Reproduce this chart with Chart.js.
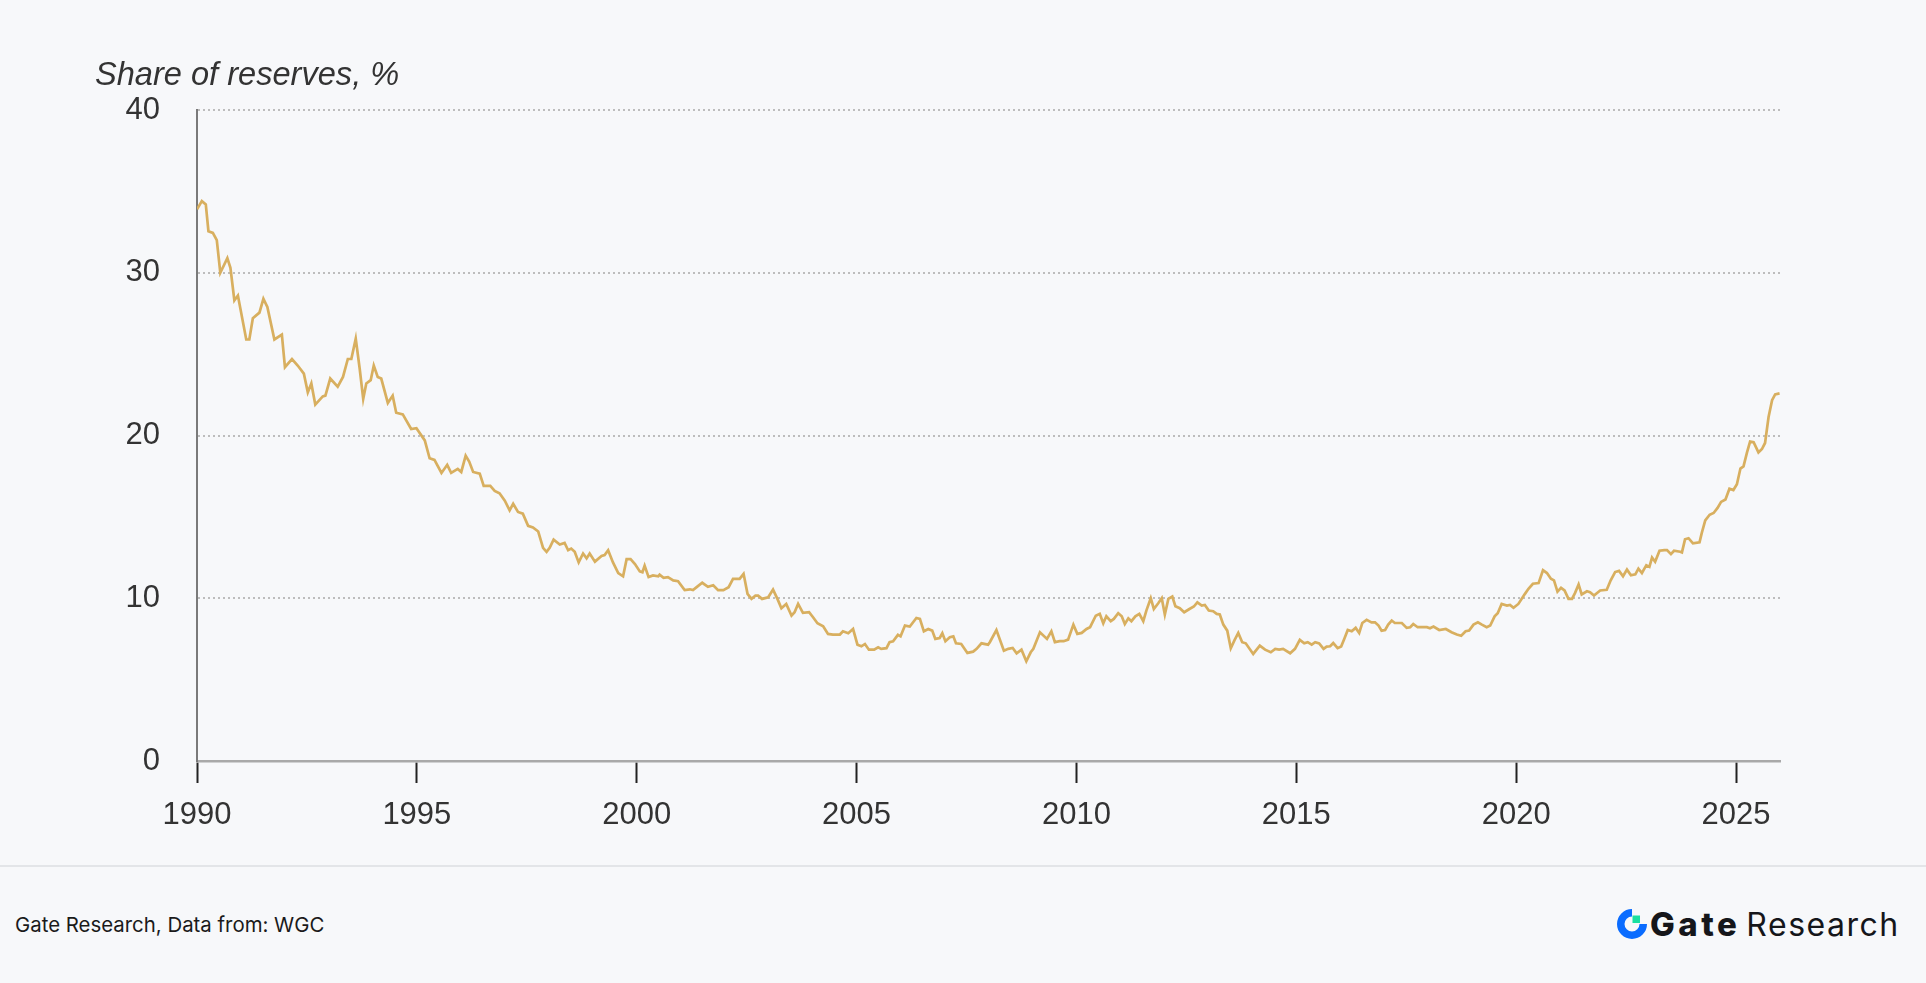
<!DOCTYPE html>
<html>
<head>
<meta charset="utf-8">
<script src="https://cdn.jsdelivr.net/npm/chart.js@4.4.1/dist/chart.umd.min.js"></script>
<style>
  html, body { margin: 0; padding: 0; background: #F7F8FA; }
  body { width: 1926px; height: 983px; position: relative; overflow: hidden; }
  #wrap { position: absolute; left: 0; top: 0; width: 1926px; height: 860px; }
  #ytitle { position: absolute; left: 95px; top: 58px; font-family: "Liberation Sans", Arial, sans-serif;
            font-style: italic; font-size: 32.6px; line-height: 32px; color: #333; white-space: nowrap; }
  #sep { position: absolute; left: 0; top: 865px; width: 1926px; height: 2px; background: #E3E5E8; }
  #source { position: absolute; left: 15px; top: 912px; font-family: Inter, "Noto Sans", sans-serif;
            font-size: 20.4px; line-height: 26px; color: #1A1A1A; white-space: nowrap; }
  #logo { position: absolute; left: 1617px; top: 904px; height: 40px; display: flex; align-items: center; white-space: nowrap; }
  #logo svg { display: block; margin-right: 3px; }
  #logo .g { font-family: Inter, sans-serif; font-weight: 800; font-size: 33px; color: #15161A; letter-spacing: 3.5px; }
  #logo .r { font-family: Inter, sans-serif; font-weight: 400; font-size: 32px; color: #15161A; margin-left: 6px; letter-spacing: 1.5px; }
</style>
</head>
<body>
<div id="wrap"><canvas id="c" width="1926" height="860"></canvas></div>
<div id="ytitle">Share of reserves, %</div>
<div id="sep"></div>
<div id="source">Gate Research, Data from: WGC</div>
<div id="logo">
  <svg width="30" height="30" viewBox="0 0 30 30">
    <path d="M15 0 A15 15 0 1 0 30 15 L22.5 15 A7.5 7.5 0 1 1 15 7.5 Z" fill="#0A6CFF"/>
    <rect x="15.5" y="6.5" width="7.5" height="7.5" fill="#1AE0A0"/>
  </svg>
  <span class="g">Gate</span><span class="r">Research</span>
</div>
<script>
// Decimal year of each observation
const years = [
1990.00,1990.11,1990.20,1990.26,1990.36,1990.45,1990.53,1990.69,1990.76,1990.85,1990.93,
1991.12,1991.19,1991.27,1991.42,1991.51,1991.60,1991.76,1991.93,
1992.00,1992.16,1992.29,1992.43,1992.52,1992.60,1992.69,1992.86,1992.92,
1993.03,1993.20,1993.32,1993.43,1993.51,1993.61,1993.70,1993.78,1993.85,1993.95,
1994.02,1994.11,1994.19,1994.34,1994.45,1994.53,1994.68,1994.87,1994.99,
1995.18,1995.29,1995.40,1995.56,1995.69,1995.78,1995.93,
1996.01,1996.11,1996.19,1996.28,1996.43,1996.52,1996.67,1996.77,1996.88,
1997.00,1997.11,1997.19,1997.30,1997.41,1997.53,1997.64,1997.76,1997.87,1997.95,
1998.02,1998.11,1998.25,1998.36,1998.44,1998.51,1998.59,1998.68,1998.78,1998.86,1998.93,
1999.05,1999.20,1999.27,1999.35,1999.46,1999.58,1999.69,1999.77,1999.86,1999.96,
2000.07,2000.13,2000.18,2000.27,2000.37,2000.49,2000.52,2000.61,2000.71,2000.83,2000.94,
2001.09,2001.21,2001.28,2001.37,2001.49,2001.62,2001.74,2001.85,2001.97,
2002.09,2002.19,2002.34,2002.43,2002.52,2002.61,2002.70,2002.76,2002.85,2002.99,
2003.10,2003.20,2003.29,2003.40,2003.52,2003.59,2003.67,2003.78,2003.92,
2004.01,2004.11,2004.24,2004.35,2004.46,2004.62,2004.69,2004.81,2004.92,
2005.02,2005.11,2005.19,2005.28,2005.40,2005.49,2005.56,2005.68,2005.75,2005.83,2005.94,
2006.00,2006.10,2006.21,2006.36,2006.44,2006.53,2006.63,2006.72,2006.79,2006.89,2006.95,
2007.02,2007.12,2007.20,2007.26,2007.38,2007.52,2007.65,2007.73,2007.84,2007.99,
2008.03,2008.18,2008.35,2008.45,2008.55,2008.64,2008.75,2008.86,2008.96,
2009.02,2009.17,2009.33,2009.43,2009.51,2009.62,2009.71,2009.81,2009.93,
2010.02,2010.12,2010.23,2010.31,2010.44,2010.53,2010.61,2010.68,2010.78,2010.85,2010.95,
2011.03,2011.10,2011.18,2011.25,2011.34,2011.43,2011.52,2011.59,2011.69,2011.76,2011.86,2011.94,
2012.01,2012.09,2012.18,2012.25,2012.35,2012.45,2012.57,2012.67,2012.75,2012.85,2012.92,
2013.01,2013.11,2013.19,2013.26,2013.34,2013.43,2013.51,2013.59,2013.68,2013.77,2013.85,
2014.02,2014.17,2014.29,2014.42,2014.52,2014.61,2014.70,2014.86,2014.97,
2015.08,2015.18,2015.26,2015.35,2015.43,2015.52,2015.62,2015.69,2015.77,2015.84,2015.94,
2016.02,2016.09,2016.17,2016.26,2016.35,2016.43,2016.50,2016.60,2016.71,2016.79,2016.87,2016.94,
2017.02,2017.09,2017.17,2017.24,2017.40,2017.51,2017.59,2017.66,2017.76,2017.97,
2018.04,2018.12,2018.25,2018.40,2018.53,2018.65,2018.75,2018.85,2018.93,
2019.03,2019.13,2019.22,2019.33,2019.41,2019.51,2019.58,2019.67,2019.79,2019.86,2019.94,
2020.05,2020.20,2020.28,2020.38,2020.51,2020.61,2020.70,2020.79,2020.86,2020.94,
2021.02,2021.10,2021.19,2021.27,2021.34,2021.42,2021.49,2021.61,2021.68,2021.77,2021.91,
2022.06,2022.15,2022.25,2022.34,2022.43,2022.52,2022.61,2022.71,2022.78,2022.86,2022.96,
2023.03,2023.09,2023.16,2023.26,2023.37,2023.43,2023.52,2023.59,2023.73,2023.77,2023.84,2023.92,
2024.02,2024.17,2024.22,2024.30,2024.40,2024.49,2024.58,2024.66,2024.76,2024.85,2024.94,
2025.02,2025.10,2025.17,2025.25,2025.32,2025.40,2025.51,2025.59,2025.66,2025.74,2025.82,2025.89,2025.99
];
// Gold's share of reserves, %
const shares = [
33.9,34.4,34.2,32.55,32.45,32.0,30.0,30.9,30.3,28.3,28.6,
25.9,25.9,27.2,27.55,28.4,27.9,25.9,26.2,
24.2,24.7,24.3,23.8,22.65,23.2,21.9,22.4,22.45,
23.5,23.0,23.6,24.7,24.7,25.95,24.1,22.25,23.2,23.4,
24.3,23.6,23.5,22.0,22.45,21.4,21.3,20.4,20.45,
19.7,18.6,18.5,17.7,18.2,17.7,17.95,
17.76,18.76,18.4,17.76,17.66,16.9,16.9,16.6,16.45,
16.0,15.4,15.8,15.3,15.2,14.45,14.35,14.1,13.1,12.85,
13.1,13.6,13.3,13.4,12.95,13.05,12.85,12.2,12.75,12.45,12.75,
12.25,12.6,12.65,12.95,12.2,11.55,11.35,12.4,12.4,12.1,
11.65,11.6,12.0,11.3,11.4,11.35,11.45,11.25,11.3,11.1,11.05,
10.5,10.55,10.5,10.7,10.95,10.7,10.8,10.5,10.5,
10.68,11.19,11.19,11.5,10.27,9.96,10.16,10.16,9.96,10.06,
10.53,9.96,9.39,9.65,8.93,9.14,9.65,9.1,9.14,
8.83,8.46,8.28,7.81,7.77,7.77,7.97,7.85,8.11,
7.15,7.05,7.19,6.84,6.84,6.99,6.89,6.93,7.3,7.36,7.75,
7.66,8.32,8.26,8.79,8.73,7.97,8.11,8.01,7.5,7.56,7.85,
7.36,7.6,7.66,7.23,7.19,6.64,6.72,6.89,7.23,7.15,
7.3,8.05,6.78,6.89,6.95,6.62,6.84,6.13,6.68,
6.89,7.91,7.5,7.97,7.3,7.36,7.36,7.46,8.38,
7.81,7.87,8.11,8.22,8.93,9.04,8.46,8.89,8.59,8.73,9.08,
8.89,8.42,8.77,8.59,8.89,9.04,8.59,9.24,10.0,9.34,9.69,10.0,
9.0,9.96,10.1,9.51,9.39,9.14,9.34,9.49,9.75,9.55,9.59,
9.24,9.2,9.04,9.0,8.38,8.01,6.93,7.4,7.87,7.3,7.23,
6.58,7.09,6.84,6.68,6.89,6.84,6.89,6.62,6.89,
7.44,7.23,7.3,7.15,7.3,7.23,6.89,7.03,7.05,7.25,6.93,
7.03,7.5,8.05,7.97,8.18,7.87,8.48,8.67,8.52,8.52,8.32,8.01,
8.05,8.38,8.63,8.48,8.48,8.18,8.22,8.42,8.22,8.22,
8.16,8.26,8.05,8.11,7.91,7.77,7.7,7.97,8.01,
8.38,8.52,8.38,8.22,8.32,8.89,9.08,9.65,9.55,9.59,9.41,
9.65,10.27,10.58,10.89,10.93,11.72,11.55,11.2,11.1,10.41,
10.64,10.48,9.96,9.96,10.33,10.85,10.23,10.43,10.37,10.17,10.48,
10.52,11.1,11.61,11.68,11.35,11.76,11.41,11.47,11.82,11.55,12.03,
11.93,12.5,12.24,12.92,12.96,12.96,12.71,12.92,12.86,12.82,13.62,13.69,
13.37,13.44,14.0,14.78,15.13,15.24,15.55,15.92,16.07,16.73,16.65,
17.0,17.97,18.1,18.96,19.63,19.59,18.96,19.17,19.54,21.14,22.17,22.53,22.59
];
const xTicks = [1990, 1995, 2000, 2005, 2010, 2015, 2020, 2025];
const yTicks = [0, 10, 20, 30, 40];

const points = years.map((x, i) => ({ x: x, y: shares[i] }));
const tickFont = { family: '"Liberation Sans", Arial, sans-serif', size: 31 };

new Chart(document.getElementById('c'), {
  type: 'line',
  data: {
    datasets: [{
      data: points,
      borderColor: '#D8AF5F',
      borderWidth: 2.7,
      pointRadius: 0,
      tension: 0,
      fill: false
    }]
  },
  options: {
    responsive: false,
    animation: false,
    devicePixelRatio: 1,
    layout: { padding: { left: 0, right: 146, top: 110, bottom: 0 } },
    plugins: { legend: { display: false }, tooltip: { enabled: false } },
    scales: {
      x: {
        type: 'linear',
        min: 1990,
        max: 2026,
        afterBuildTicks: (s) => { s.ticks = xTicks.map(v => ({ value: v })); },
        afterFit: (s) => { s.height = 99; },
        ticks: { color: '#333', font: tickFont, padding: 14, maxRotation: 0, autoSkip: false,
                 callback: (v) => String(v) },
        grid: { drawOnChartArea: false, drawTicks: true, tickLength: 22, tickColor: '#222', tickWidth: 2 },
        border: { display: true, color: '#A9A9A9', width: 2.5 }
      },
      y: {
        min: 0,
        max: 40,
        afterBuildTicks: (s) => { s.ticks = yTicks.map(v => ({ value: v })); },
        afterFit: (s) => { s.width = 197; },
        ticks: { color: '#333', font: tickFont, padding: 37 },
        grid: {
          drawTicks: false,
          lineWidth: 2,
          color: (ctx) => (ctx.tick && ctx.tick.value === 0) ? 'rgba(0,0,0,0)' : '#BDBDBD'
        },
        border: { display: true, color: '#7A7A7A', width: 2, dash: [2, 3] }
      }
    }
  }
});
</script>
</body>
</html>
